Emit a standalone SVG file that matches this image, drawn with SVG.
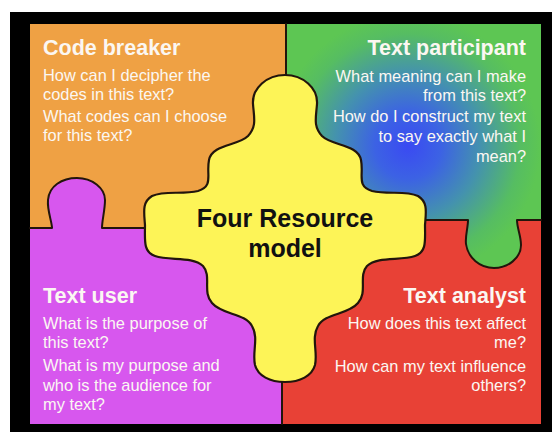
<svg xmlns="http://www.w3.org/2000/svg" width="552" height="432" viewBox="0 0 552 432">
<defs>
<radialGradient id="gp" gradientUnits="userSpaceOnUse" cx="408" cy="146" r="132">
<stop offset="0" stop-color="#3A4AF2"/>
<stop offset="0.25" stop-color="#3C62E4"/>
<stop offset="0.55" stop-color="#4492AE"/>
<stop offset="0.85" stop-color="#56BD62"/>
<stop offset="1" stop-color="#5DC653"/>
</radialGradient>
<style>
.edge{fill:none;stroke:#22150c;stroke-width:2;stroke-linejoin:round;stroke-linecap:round}
.h{font-family:"Liberation Sans",Arial,sans-serif;font-weight:bold;font-size:21.5px;fill:#FBF7F2}
.b{font-family:"Liberation Sans",Arial,sans-serif;font-size:16.4px;fill:#FBF7F2}
.r{text-anchor:end}
.c{font-family:"Liberation Sans",Arial,sans-serif;font-weight:bold;font-size:25px;fill:#111;text-anchor:middle}
</style>
</defs>
<rect x="0" y="0" width="552" height="432" fill="#ffffff"/>
<rect x="10" y="12" width="542" height="420" fill="#000000"/>

<g id="code-breaker">
<rect x="30" y="24" width="256" height="204" fill="#EFA144"/>
</g>
<g id="text-participant">
<rect x="286" y="24" width="255" height="196" fill="url(#gp)"/>
</g>
<g id="text-user">
<rect x="30" y="228" width="252" height="196" fill="#D757EE"/>
<path d="M52 229 C52 222,47 210,48 200 C49 186,62 178,77 178 C92 178,105 188,105 200 C105 210,102 220,102 229 Z" fill="#D757EE"/>
</g>
<g id="text-analyst">
<rect x="282" y="220" width="259" height="204" fill="#E84136"/>
<path d="M468 219 C468 228,465 236,466 244 C468 258,480 268,494 268 C508 268,521 258,521 245 C521 236,517 228,517 219 Z" fill="url(#gp)"/>
</g>

<g id="connectors">
<path class="edge" d="M30 228 L52 228 C52 222,47 210,48 200 C49 186,62 178,77 178 C92 178,105 188,105 200 C105 210,102 220,102 228 L150 228"/>
<path class="edge" d="M420 220 L468 220 C468 228,465 236,466 244 C468 258,480 268,494 268 C508 268,521 258,521 245 C521 236,517 228,517 220 L541 220"/>
<path class="edge" d="M286 24 L286 80"/>
<path class="edge" d="M282 375 L282 424"/>
</g>

<g id="four-resource-model">
<path d="M285 75 C303 75,318 88,317 104 C316 118,313 126,322 136 C332 146,358 144,361 160 C364 175,356 186,372 191 C388 195,405 190,418 196 C428 202,426 212,425 225 C425 240,427 252,415 256 C400 261,378 256,367 266 C358 276,368 292,358 303 C348 315,325 313,318 326 C311 338,318 352,315 365 C312 376,300 382,285 382 C270 382,258 376,255 365 C252 352,259 338,252 326 C245 313,222 315,212 303 C202 292,212 276,203 266 C192 256,170 261,155 256 C143 252,145 240,145 225 C144 212,142 202,152 196 C165 190,182 195,198 191 C214 186,206 175,209 160 C212 144,238 146,248 136 C257 126,254 118,253 104 C252 88,267 75,285 75 Z" fill="#FDF457" stroke="#22150c" stroke-width="2.2"/>
<text class="c" x="285" y="227">Four Resource</text>
<text class="c" x="285" y="257">model</text>
</g>

<g id="code-breaker-text">
<text class="h" x="43" y="55">Code breaker</text>
<text class="b" x="43" y="81">How can I decipher the</text>
<text class="b" x="43" y="100">codes in this text?</text>
<text class="b" x="43" y="122">What codes can I choose</text>
<text class="b" x="43" y="141">for this text?</text>
</g>
<g id="text-participant-text">
<text class="h r" x="526" y="55">Text participant</text>
<text class="b r" x="526" y="82">What meaning can I make</text>
<text class="b r" x="526" y="101">from this text?</text>
<text class="b r" x="526" y="122">How do I construct my text</text>
<text class="b r" x="526" y="142">to say exactly what I</text>
<text class="b r" x="526" y="162">mean?</text>
</g>
<g id="text-user-text">
<text class="h" x="43" y="303">Text user</text>
<text class="b" x="43" y="329">What is the purpose of</text>
<text class="b" x="43" y="348">this text?</text>
<text class="b" x="43" y="371">What is my purpose and</text>
<text class="b" x="43" y="391">who is the audience for</text>
<text class="b" x="43" y="410">my text?</text>
</g>
<g id="text-analyst-text">
<text class="h r" x="526" y="303">Text analyst</text>
<text class="b r" x="526" y="329">How does this text affect</text>
<text class="b r" x="526" y="348">me?</text>
<text class="b r" x="526" y="372">How can my text influence</text>
<text class="b r" x="526" y="391">others?</text>
</g>
</svg>
